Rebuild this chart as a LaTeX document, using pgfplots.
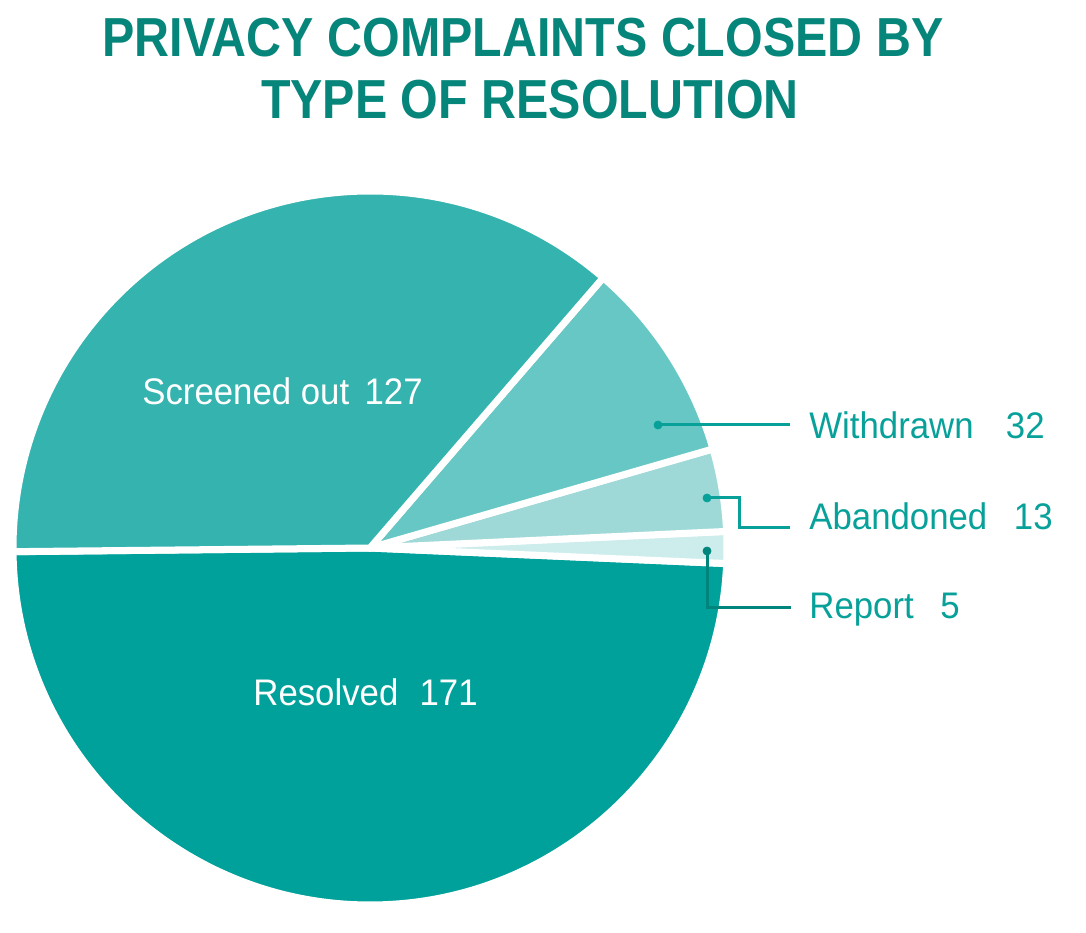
\documentclass[border=0pt]{standalone}
\usepackage{pgfplots}
\pgfplotsset{compat=1.18}
\usepackage{fontspec}
\setmainfont{Liberation Sans}
\newfontfamily\titlefont[FakeStretch=0.88]{Liberation Sans Bold}
\newfontfamily\labelfont[FakeStretch=0.94]{Liberation Sans}

\definecolor{cResolved}{HTML}{00A19A}
\definecolor{cScreened}{HTML}{35B3AF}
\definecolor{cWithdrawn}{HTML}{67C7C4}
\definecolor{cAbandoned}{HTML}{9ED9D8}
\definecolor{cReport}{HTML}{CDEDEC}
\definecolor{ctitle}{HTML}{06857A}
\definecolor{clabel}{HTML}{08A19A}
\definecolor{cdark}{HTML}{00857C}

\begin{document}
\begin{tikzpicture}[
  wedge/.style={draw=white, line width=3.5pt, line join=round},
  lbl/.style={inner sep=0pt, font=\labelfont\fontsize{18.5pt}{22pt}\selectfont},
  ]
% complaints by resolution (total 348), wedges counter-clockwise from the left
\def\total{348}
\pgfmathsetmacro\aA{180.6}
\pgfmathsetmacro\aB{\aA+171/\total*360}% Resolved
\pgfmathsetmacro\aC{\aB+5/\total*360}% Report
\pgfmathsetmacro\aD{\aC+13/\total*360}% Abandoned
\pgfmathsetmacro\aE{\aD+32/\total*360}% Withdrawn
\pgfmathsetmacro\aF{\aE+127/\total*360}% Screened out
\def\R{178.5pt}
\begin{axis}[
  scale only axis, width=543pt, height=466pt,
  xmin=0, xmax=1086, ymin=0, ymax=932,
  hide axis, clip=false,
  ]
  \path (rel axis cs:0,0) rectangle (rel axis cs:1,1);

  \fill[cResolved, wedge] (axis cs:370,384) -- ++(\aA:\R) arc[start angle=\aA, end angle=\aB, radius=\R] -- cycle;
  \fill[cReport, wedge] (axis cs:370,384) -- ++(\aB:\R) arc[start angle=\aB, end angle=\aC, radius=\R] -- cycle;
  \fill[cAbandoned, wedge] (axis cs:370,384) -- ++(\aC:\R) arc[start angle=\aC, end angle=\aD, radius=\R] -- cycle;
  \fill[cWithdrawn, wedge] (axis cs:370,384) -- ++(\aD:\R) arc[start angle=\aD, end angle=\aE, radius=\R] -- cycle;
  \fill[cScreened, wedge] (axis cs:370,384) -- ++(\aE:\R) arc[start angle=\aE, end angle=\aF, radius=\R] -- cycle;

  % leader lines
  \addplot[clabel, line width=1.5pt, mark=none] coordinates {(658,507) (790,507)};
  \addplot[clabel, line width=1.5pt, mark=none] coordinates {(707,434) (739,434) (739,404) (790,404)};
  \addplot[cdark, line width=1.5pt, mark=none] coordinates {(707,381) (707,324) (791,324)};
  \addplot[clabel, only marks, mark=*, mark size=2pt] coordinates {(658,507) (707,434)};
  \addplot[cdark, only marks, mark=*, mark size=2pt] coordinates {(707,381)};

  % title
  \node[anchor=base, text=ctitle, font=\titlefont\fontsize{27.5pt}{33pt}\selectfont] at (axis cs:523,875) {PRIVACY COMPLAINTS CLOSED BY};
  \node[anchor=base, text=ctitle, font=\titlefont\fontsize{27.5pt}{33pt}\selectfont] at (axis cs:530,813) {TYPE OF RESOLUTION};

  % labels
  \node[lbl, anchor=base west, text=white] at (axis cs:142,527) {Screened out};
  \node[lbl, anchor=base east, text=white] at (axis cs:423,527) {127};
  \node[lbl, anchor=base west, text=white] at (axis cs:253,227) {Resolved};
  \node[lbl, anchor=base east, text=white] at (axis cs:478,227) {171};
  \node[lbl, anchor=base west, text=clabel] at (axis cs:809,493) {Withdrawn};
  \node[lbl, anchor=base east, text=clabel] at (axis cs:1045,493) {32};
  \node[lbl, anchor=base west, text=clabel] at (axis cs:809,402) {Abandoned};
  \node[lbl, anchor=base east, text=clabel] at (axis cs:1053,402) {13};
  \node[lbl, anchor=base west, text=clabel] at (axis cs:809,314) {Report};
  \node[lbl, anchor=base east, text=clabel] at (axis cs:960,314) {5};
\end{axis}
\end{tikzpicture}
\end{document}
